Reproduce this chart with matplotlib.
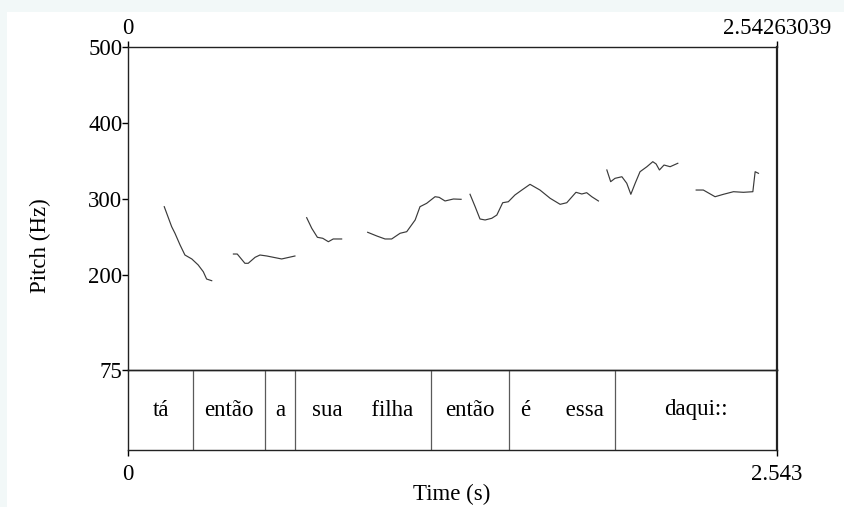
import matplotlib
matplotlib.use("Agg")
import matplotlib.pyplot as plt
from matplotlib.patches import Rectangle

plt.rcParams['font.family'] = ['Liberation Serif', 'DejaVu Serif']

T_END = 2.54263039
Y_TICKS = [75, 200, 300, 400, 500]

# Pitch contour segments (time s, pitch Hz)
seg1_t = [0.142, 0.171, 0.184, 0.204, 0.223, 0.250, 0.275, 0.295, 0.308, 0.328]
seg1_f = [289.9, 263.6, 254.9, 239.5, 226.3, 221.1, 213.2, 204.3, 194.7, 192.5]
seg2_t = [0.413, 0.428, 0.458, 0.471, 0.498, 0.517, 0.544, 0.602, 0.654]
seg2_f = [227.6, 227.6, 215.4, 215.4, 223.3, 226.3, 225.0, 221.1, 225.0]
seg3_t = [0.700, 0.720, 0.742, 0.763, 0.785, 0.804, 0.837]
seg3_f = [275.4, 261.4, 249.6, 248.3, 243.8, 247.4, 247.4]
seg4_t = [0.939, 0.975, 1.007, 1.033, 1.066, 1.092, 1.125, 1.144, 1.170, 1.203, 1.219, 1.242, 1.275, 1.305]
seg4_f = [256.2, 251.3, 247.4, 247.4, 254.9, 257.0, 272.4, 289.9, 294.3, 303.0, 302.2, 297.4, 300.0, 299.6]
seg5_t = [1.340, 1.360, 1.379, 1.399, 1.425, 1.445, 1.468, 1.490, 1.516, 1.543, 1.575, 1.614, 1.654, 1.693, 1.719, 1.755, 1.778, 1.797, 1.817, 1.843]
seg5_f = [306.2, 289.9, 273.7, 272.4, 274.6, 278.9, 295.1, 296.4, 305.3, 311.8, 319.3, 311.8, 300.9, 293.0, 295.1, 308.8, 306.6, 308.3, 303.0, 297.4]
seg6_t = [1.876, 1.891, 1.908, 1.935, 1.954, 1.970, 1.987, 2.006, 2.033, 2.056, 2.069, 2.082, 2.100, 2.124, 2.154]
seg6_f = [338.2, 322.8, 327.2, 329.3, 320.7, 306.2, 320.7, 335.9, 342.5, 349.1, 346.1, 338.2, 344.7, 342.5, 347.0]
seg7_t = [2.226, 2.254, 2.300, 2.333, 2.372, 2.411, 2.448, 2.457, 2.470]
seg7_f = [311.8, 311.8, 303.0, 306.2, 309.6, 308.8, 309.6, 335.9, 333.8]

segments = [(seg1_t, seg1_f), (seg2_t, seg2_f), (seg3_t, seg3_f), (seg4_t, seg4_f),
            (seg5_t, seg5_f), (seg6_t, seg6_f), (seg7_t, seg7_f)]

# TextGrid tier
boundaries = [0.2547, 0.537, 0.654, 1.187, 1.493, 1.908]
words = ["tá", "então", "a", "sua     filha", "então", "é      essa", "daqui::"]

FS = 16.5
W, H = 845, 507
fig = plt.figure(figsize=(W / 100, H / 100), dpi=100)
fig.patch.set_facecolor('#f2f8f8')
fig.patches.append(Rectangle((7 / W, 0), 1 - 7 / W, 1 - 12 / H, transform=fig.transFigure,
                             facecolor='white', edgecolor='none', zorder=-10))

L, R = 128 / W, 777 / W
def fy(p):
    return 1 - p / H

ax1 = fig.add_axes([L, fy(370), R - L, fy(47) - fy(370)])
ax2 = fig.add_axes([L, fy(450), R - L, fy(370) - fy(450)])

for ax in (ax1, ax2):
    ax.set_facecolor('none')
    ax.set_zorder(5)
    for s in ax.spines.values():
        s.set_linewidth(1.0)
        s.set_color('#222222')
    ax.spines['right'].set_linewidth(1.6)

# pitch
for t, f in segments:
    ax1.plot(t, f, color='#3a3a3a', lw=0.85)
ax1.set_xlim(0, T_END)
ax1.set_ylim(75, 500)
ax1.set_yticks(Y_TICKS)
ax1.set_yticklabels([str(v) for v in Y_TICKS], fontsize=FS)
ax1.tick_params(axis='y', direction='out', length=4, width=1, pad=0)
ax1.xaxis.tick_top()
ax1.set_xticks([0, T_END])
ax1.set_xticklabels(["0", "2.54263039"], fontsize=FS)
ax1.tick_params(axis='x', direction='out', length=4, width=1, pad=2)

# tier
ax2.set_xlim(0, T_END)
ax2.set_ylim(0, 1)
ax2.set_yticks([])
edges = [0] + boundaries + [T_END]
for b in boundaries:
    ax2.axvline(b, color='#5a5a5a', lw=0.9)
for i, w in enumerate(words):
    ax2.text((edges[i] + edges[i + 1]) / 2, 0.5, w, ha='center', va='center', fontsize=FS)
ax2.set_xticks([0, T_END])
ax2.set_xticklabels(["0", "2.543"], fontsize=FS)
ax2.tick_params(axis='x', direction='out', length=4, width=1, pad=6)

fig.text(40 / W, fy(246), "Pitch (Hz)", rotation=90, ha='center', va='center', fontsize=FS)
fig.text(452 / W, fy(494), "Time (s)", ha='center', va='center', fontsize=FS)

fig.savefig("out.png", dpi=100, facecolor=fig.get_facecolor())
